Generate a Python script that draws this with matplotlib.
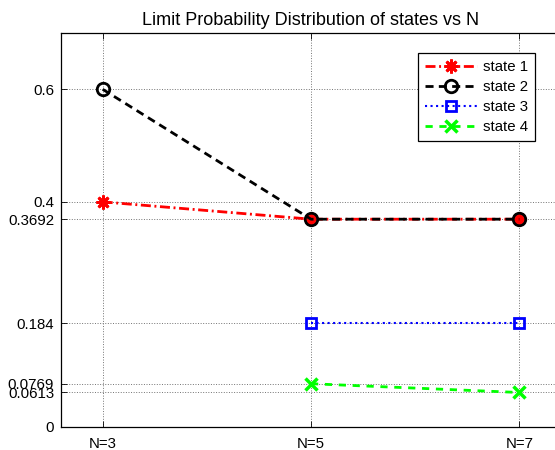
import numpy as np
import matplotlib
matplotlib.use("Agg")
from matplotlib import pyplot as plt

plt.rcParams['font.family'] = ['Liberation Sans', 'DejaVu Sans']

# limit probabilities per state for each chain size
n_values = [3, 5, 7]
n_labels = ['N=3', 'N=5', 'N=7']
state_1 = [0.4, 0.3692, 0.3692]
state_2 = [0.6, 0.3692, 0.3692]
state_3 = [np.nan, 0.184, 0.184]
state_4 = [np.nan, 0.0769, 0.0613]
y_ticks = [0, 0.0613, 0.0769, 0.184, 0.3692, 0.4, 0.6]
y_tick_labels = ['0', '0.0613', '0.0769', '0.184', '0.3692', '0.4', '0.6']

fig = plt.figure(figsize=(5.55, 4.5), dpi=100)
ax = fig.add_axes([61 / 555, 23 / 450, 500 / 555, 394 / 450])

ax.plot(n_values, state_1, color='red', linestyle='-.', dashes=(3.6, 1.3, 0.7, 1.3), linewidth=2,
        marker=(8, 2, 0), markersize=10, markeredgewidth=2, label='state 1')
ax.plot(n_values, state_2, color='black', linestyle='--', dashes=(2.9, 1.9), linewidth=2,
        marker='o', markersize=9, markerfacecolor='none', markeredgewidth=2, label='state 2')
ax.plot(n_values, state_3, color='blue', linestyle=':', linewidth=1.5,
        marker='s', markersize=7, markerfacecolor='none', markeredgewidth=2, label='state 3')
ax.plot(n_values, state_4, color='#00ff00', linestyle='--', dashes=(2.6, 2.4), linewidth=2,
        marker='x', markersize=9, markeredgewidth=2.5, label='state 4')

ax.set_xlim(2.6, 7.4)
ax.set_ylim(0, 0.7)
ax.set_xticks(n_values)
ax.set_xticklabels(n_labels)
ax.set_yticks(y_ticks)
ax.set_yticklabels(y_tick_labels)
ax.tick_params(direction='in', length=4, width=0.6, top=True, right=True,
               labelsize=10.8, pad=5)
ax.tick_params(axis='x', pad=7)
ax.grid(True, linestyle=':', color='0.45', linewidth=0.7)
for spine in ax.spines.values():
    spine.set_linewidth(0.9)

ax.set_title('Limit Probability Distribution of states vs N', fontsize=13, pad=6)

leg = ax.legend(loc='upper right', bbox_to_anchor=(0.948, 0.949), borderaxespad=0,
                fancybox=False, edgecolor='black', framealpha=1, fontsize=10.8,
                handlelength=3.5, labelspacing=0.4, borderpad=0.45, handletextpad=0.4)
leg.get_frame().set_linewidth(0.9)

fig.savefig('out.png', dpi=100)
